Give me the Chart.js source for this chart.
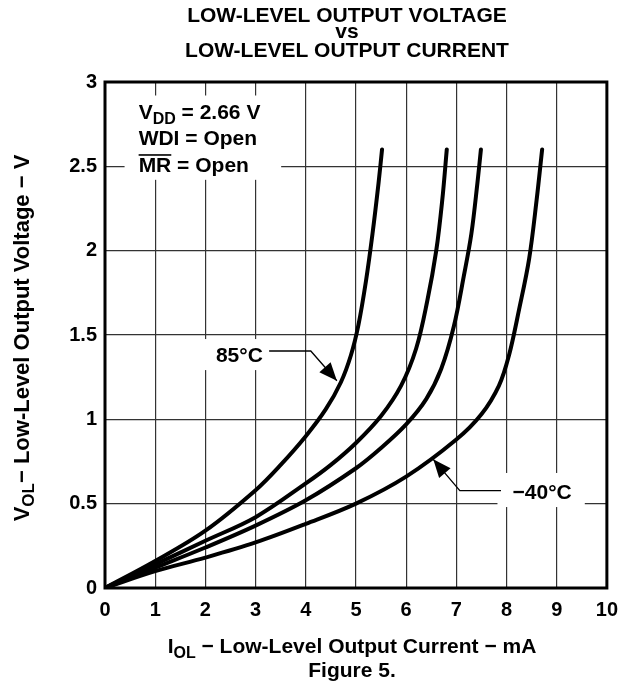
<!DOCTYPE html>
<html>
<head>
<meta charset="utf-8">
<script src="https://cdn.jsdelivr.net/npm/chart.js@4.4.1/dist/chart.umd.min.js"></script>
<style>
  html, body { margin: 0; padding: 0; background: #fff; }
</style>
</head>
<body>
<canvas id="chart" width="628" height="684"></canvas>
<script>
// Values: IOL in mA, VOL in V, one pair of arrays per curve
const curve85I = [0, 1, 2, 3, 3.5, 4, 4.4, 4.7, 4.9, 5.05, 5.2, 5.33, 5.45, 5.52];
const curve85V = [0, 0.16, 0.34, 0.58, 0.73, 0.9, 1.06, 1.22, 1.38, 1.56, 1.82, 2.1, 2.4, 2.6];

const curve25I = [0, 1, 2, 3, 4, 4.5, 5, 5.5, 5.9, 6.2, 6.42, 6.6, 6.72, 6.81];
const curve25V = [0, 0.14, 0.28, 0.42, 0.62, 0.73, 0.86, 1.02, 1.2, 1.42, 1.7, 2.0, 2.3, 2.6];

const curve0I = [0, 1, 2, 3, 4, 5, 5.5, 6, 6.4, 6.7, 6.95, 7.15, 7.3, 7.42, 7.49];
const curve0V = [0, 0.12, 0.24, 0.37, 0.52, 0.71, 0.83, 0.97, 1.12, 1.3, 1.55, 1.85, 2.1, 2.4, 2.6];

const curveM40I = [0, 1, 2, 3, 4, 5, 6, 7, 7.5, 7.85, 8.05, 8.25, 8.45, 8.6, 8.71];
const curveM40V = [0, 0.1, 0.18, 0.27, 0.38, 0.5, 0.66, 0.88, 1.03, 1.2, 1.38, 1.65, 1.95, 2.3, 2.6];

const xTicks = [0, 1, 2, 3, 4, 5, 6, 7, 8, 9, 10];
const yTicks = [0, 0.5, 1, 1.5, 2, 2.5, 3];

const titleLines = ['LOW-LEVEL OUTPUT VOLTAGE', 'vs', 'LOW-LEVEL OUTPUT CURRENT'];

const FAMILY = '"Liberation Sans", Arial, Helvetica, sans-serif';
const font = size => 'bold ' + size + 'px ' + FAMILY;

function toPoints(xs, ys) {
    return xs.map((x, i) => ({ x: x, y: ys[i] }));
}

function curve(label, xs, ys) {
    return {
        label: label,
        data: toPoints(xs, ys),
        showLine: true,
        borderColor: '#000',
        borderWidth: 4,
        borderCapStyle: 'round',
        borderJoinStyle: 'round',
        pointRadius: 0,
        tension: 0.35,
        fill: false
    };
}

// text made of runs: [text, 'sub' | 'over' | undefined]
function drawRuns(ctx, runs, x, y, align, size) {
    size = size || 21;
    const subSize = Math.round(size * 0.76);
    let total = 0;
    const widths = runs.map(r => {
        ctx.font = font(r[1] === 'sub' ? subSize : size);
        const w = ctx.measureText(r[0]).width;
        total += w;
        return w;
    });
    let cx = align === 'center' ? x - total / 2 : x;
    runs.forEach((r, i) => {
        ctx.font = font(r[1] === 'sub' ? subSize : size);
        ctx.fillText(r[0], cx, r[1] === 'sub' ? y + size * 0.24 : y);
        if (r[1] === 'over') ctx.fillRect(cx, y - size * 0.86, widths[i], 1.6);
        cx += widths[i];
    });
}

function arrow(ctx, pts) {
    ctx.beginPath();
    ctx.moveTo(pts[0][0], pts[0][1]);
    for (let i = 1; i < pts.length; i++) ctx.lineTo(pts[i][0], pts[i][1]);
    ctx.lineWidth = 1.3;
    ctx.stroke();
    const [ax, ay] = pts[pts.length - 2];
    const [bx, by] = pts[pts.length - 1];
    const a = Math.atan2(by - ay, bx - ax);
    const len = 18, half = 7.5;
    ctx.beginPath();
    ctx.moveTo(bx, by);
    ctx.lineTo(bx - len * Math.cos(a) + half * Math.sin(a), by - len * Math.sin(a) - half * Math.cos(a));
    ctx.lineTo(bx - len * Math.cos(a) - half * Math.sin(a), by - len * Math.sin(a) + half * Math.cos(a));
    ctx.closePath();
    ctx.fill();
}

const decorations = {
    id: 'decorations',
    beforeDatasetsDraw(chart) {
        const { ctx, scales: { x, y } } = chart;
        const box = (x0, x1, y0, y1) => {
            const l = x.getPixelForValue(x0), r = x.getPixelForValue(x1);
            const t = y.getPixelForValue(y1), b = y.getPixelForValue(y0);
            ctx.fillRect(l, t, r - l, b - t);
        };
        ctx.save();
        ctx.fillStyle = '#fff';
        box(0.39, 3.51, 2.42, 2.92);
        box(1.8, 3.27, 1.292, 1.476);
        box(7.82, 9.56, 0.48, 0.682);
        ctx.restore();
    },
    afterDatasetsDraw(chart) {
        const { ctx, chartArea: a, scales: { x, y } } = chart;
        const P = (i, v) => [x.getPixelForValue(i), y.getPixelForValue(v)];
        ctx.save();
        ctx.strokeStyle = '#000';
        ctx.fillStyle = '#000';
        ctx.lineWidth = 3;
        ctx.strokeRect(a.left, a.top, a.right - a.left, a.bottom - a.top);

        ctx.textAlign = 'left';
        ctx.textBaseline = 'alphabetic';

        // condition notes
        let p = P(0.67, 2.78);
        drawRuns(ctx, [['V'], ['DD', 'sub'], [' = 2.66 V']], p[0], p[1], 'left');
        p = P(0.67, 2.626);
        drawRuns(ctx, [['WDI = Open']], p[0], p[1], 'left');
        p = P(0.67, 2.465);
        drawRuns(ctx, [['MR', 'over'], [' = Open']], p[0], p[1], 'left');

        // curve labels
        p = P(2.21, 1.34);
        drawRuns(ctx, [['85°C']], p[0], p[1], 'left');
        p = P(8.12, 0.528);
        drawRuns(ctx, [['\u221240°C']], p[0], p[1], 'left');

        arrow(ctx, [P(3.27, 1.405), P(4.1, 1.405), P(4.62, 1.229)]);
        arrow(ctx, [P(7.89, 0.577), P(7.07, 0.577), P(6.54, 0.763)]);

        // title
        ctx.font = font(21);
        ctx.textAlign = 'center';
        ctx.fillText(titleLines[0], 347, 22);
        ctx.fillText(titleLines[1], 347, 38);
        ctx.fillText(titleLines[2], 347, 57);
        ctx.textAlign = 'left';

        // axis titles
        drawRuns(ctx, [['I'], ['OL', 'sub'], [' \u2212 Low-Level Output Current \u2212 mA']], 352, 653, 'center');
        ctx.font = font(21);
        ctx.textAlign = 'center';
        ctx.fillText('Figure 5.', 352, 677);
        ctx.textAlign = 'left';

        ctx.translate(29, 338);
        ctx.rotate(-Math.PI / 2);
        drawRuns(ctx, [['V'], ['OL', 'sub'], ['\u2212 Low-Level Output Voltage \u2212 V']], 0, 0, 'center', 22);
        ctx.restore();
    }
};

const tickFont = { family: FAMILY, size: 20, weight: 'bold' };

new Chart(document.getElementById('chart'), {
    type: 'scatter',
    data: {
        datasets: [
            curve('85°C', curve85I, curve85V),
            curve('25°C', curve25I, curve25V),
            curve('0°C', curve0I, curve0V),
            curve('-40°C', curveM40I, curveM40V)
        ]
    },
    options: {
        responsive: false,
        animation: false,
        layout: { padding: { top: 82, right: 16, left: 0, bottom: 0 } },
        plugins: {
            legend: { display: false },
            tooltip: { enabled: false },
            title: { display: false }
        },
        scales: {
            x: {
                type: 'linear',
                min: 0,
                max: 10,
                afterBuildTicks: s => { s.ticks = xTicks.map(v => ({ value: v })); },
                ticks: { color: '#000', font: tickFont, padding: 10, maxRotation: 0, callback: v => String(v) },
                grid: { color: '#333', lineWidth: 1.2, drawTicks: false },
                border: { display: false },
                afterFit: s => { s.height = 96; }
            },
            y: {
                type: 'linear',
                min: 0,
                max: 3,
                afterBuildTicks: s => { s.ticks = yTicks.map(v => ({ value: v })); },
                ticks: { color: '#000', font: tickFont, padding: 8, callback: v => String(v) },
                grid: { color: '#333', lineWidth: 1.2, drawTicks: false },
                border: { display: false },
                afterFit: s => { s.width = 105; }
            }
        }
    },
    plugins: [decorations]
});
</script>
</body>
</html>
